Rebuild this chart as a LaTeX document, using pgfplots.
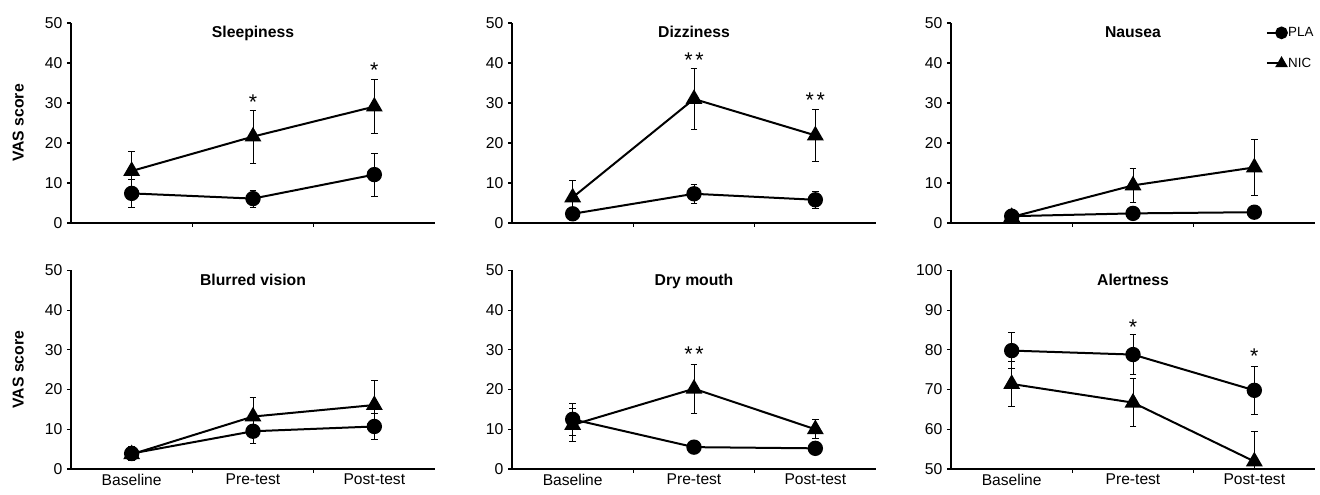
\documentclass[border=0pt]{standalone}
\usepackage{fontspec}
\setmainfont{Liberation Sans}
\usepackage{pgfplots}
\pgfplotsset{compat=1.18}

\pgfplotsset{
  panel/.style={
    scale only axis, width=273pt, height=150pt,
    axis x line=bottom, axis y line=left, axis line style={-, line width=0.8pt},
    xmin=0, xmax=3, xtick={1,2}, xticklabels={},
    extra x ticks={0.5,1.5,2.5}, extra x tick labels={},
    extra x tick style={major tick length=0pt, tick label style={font=\fontsize{11.7}{13}\selectfont}},
    tick align=outside, major tick length=3pt, tick style={line width=0.8pt, black},
    ymin=0, ymax=50, ytick={0,10,...,50},
    tick label style={font=\fontsize{11.8}{13}\selectfont},
    /pgf/number format/assume math mode=true,
    title style={at={(0.5,1)}, anchor=north, yshift=-5pt, font=\bfseries\fontsize{11.8}{13}\selectfont},
    ylabel style={at={(axis description cs:-0.145,0.5)}, anchor=center, font=\bfseries\fontsize{11.8}{13}\selectfont},
    clip=false,
  },
  pla/.style={black, line width=1.5pt, mark=*, mark size=5pt,
    error bars/y dir=both, error bars/y explicit,
    error bars/error bar style={line width=0.7pt},
    error bars/error mark options={rotate=90, mark size=2.5pt, line width=0.7pt}},
  nic/.style={black, line width=1.5pt, mark=triangle*, mark size=5.8pt,
    error bars/y dir=both, error bars/y explicit,
    error bars/error bar style={line width=0.7pt},
    error bars/error mark options={rotate=90, mark size=2.5pt, line width=0.7pt}},
}
\tikzset{sig/.style={font=\fontsize{16}{17}\selectfont, inner sep=0pt}}

\begin{document}
\begin{tikzpicture}
\path[use as bounding box] (0,0) rectangle (990pt,371.25pt);

% Sleepiness
\begin{axis}[panel, at={(53.25pt,204pt)}, anchor=south west, title={Sleepiness}, ylabel={VAS score}]
\addplot[pla] coordinates {(0.5,7.4) +- (0,3.6) (1.5,6.1) +- (0,2.1) (2.5,12.1) +- (0,5.4)};
\addplot[nic] coordinates {(0.5,13.0) +- (0,5.0) (1.5,21.6) +- (0,6.6) (2.5,29.1) +- (0,6.8)};
\node[sig] at (axis cs:1.5,30.2) {*};
\node[sig] at (axis cs:2.5,38.1) {*};
\end{axis}

% Dizziness
\begin{axis}[panel, at={(384pt,204pt)}, anchor=south west, title={Dizziness}]
\addplot[pla] coordinates {(0.5,2.3) +- (0,0.4) (1.5,7.3) +- (0,2.3) (2.5,5.8) +- (0,2.1)};
\addplot[nic] coordinates {(0.5,6.4) +- (0,4.2) (1.5,31.0) +- (0,7.6) (2.5,21.9) +- (0,6.4)};
\node[sig] at (axis cs:1.5,40.6) {*\hspace{2pt}*};
\node[sig] at (axis cs:2.5,30.7) {*\hspace{2pt}*};
\end{axis}

% Nausea
\begin{axis}[panel, at={(713.25pt,204pt)}, anchor=south west, title={Nausea},
  legend style={at={(1,1)}, anchor=north east, yshift=-2pt, draw=none, fill=none,
    font=\fontsize{10}{11}\selectfont, row sep=12.5pt, inner sep=0pt,
    nodes={inner sep=1pt}},
  legend cell align=left,
  legend image code/.code={\draw[#1, line width=1.5pt, mark size=4pt, mark repeat=2, mark phase=2]
    plot coordinates {(0pt,0pt) (11pt,0pt)};}]
\addplot[pla] coordinates {(0.5,1.7) +- (0,0.5) (1.5,2.4) +- (0,0.5) (2.5,2.7) +- (0,0.5)};
\addlegendentry{PLA}
\addplot[nic] coordinates {(0.5,1.5) +- (0,0.5) (1.5,9.4) +- (0,4.3) (2.5,13.9) +- (0,6.9)};
\addlegendentry{NIC}
\end{axis}

% Blurred vision
\begin{axis}[panel, at={(53.25pt,19.5pt)}, anchor=south west, height=149pt,
  title={Blurred vision}, ylabel={VAS score},
  extra x tick labels={Baseline,Pre-test,Post-test}]
\addplot[pla] coordinates {(0.5,3.9) +- (0,1.8) (1.5,9.5) +- (0,3.1) (2.5,10.7) +- (0,3.2)};
\addplot[nic] coordinates {(0.5,3.7) +- (0,1.0) (1.5,13.2) +- (0,4.7) (2.5,16.1) +- (0,6.2)};
\end{axis}

% Dry mouth
\begin{axis}[panel, at={(384pt,19.5pt)}, anchor=south west, height=149pt,
  title={Dry mouth},
  extra x tick labels={Baseline,Pre-test,Post-test}]
\addplot[pla] coordinates {(0.5,12.5) +- (0,4.0) (1.5,5.5) +- (0,1.5) (2.5,5.2) +- (0,1.5)};
\addplot[nic] coordinates {(0.5,11.1) +- (0,4.2) (1.5,20.2) +- (0,6.2) (2.5,10.0) +- (0,2.4)};
\node[sig] at (axis cs:1.5,28.8) {*\hspace{2pt}*};
\end{axis}

% Alertness
\begin{axis}[panel, at={(713.25pt,19.5pt)}, anchor=south west, height=149pt,
  title={Alertness}, ymin=50, ymax=100, ytick={50,60,...,100},
  extra x tick labels={Baseline,Pre-test,Post-test}]
\addplot[pla] coordinates {(0.5,79.8) +- (0,4.5) (1.5,78.8) +- (0,5.0) (2.5,69.8) +- (0,6.0)};
\addplot[nic] coordinates {(0.5,71.4) +- (0,5.7) (1.5,66.7) +- (0,6.1) (2.5,51.9) += (0,7.6) -= (0,1.9)};
\node[sig] at (axis cs:1.5,85.6) {*};
\node[sig] at (axis cs:2.5,78.4) {*};
\end{axis}
\end{tikzpicture}
\end{document}
